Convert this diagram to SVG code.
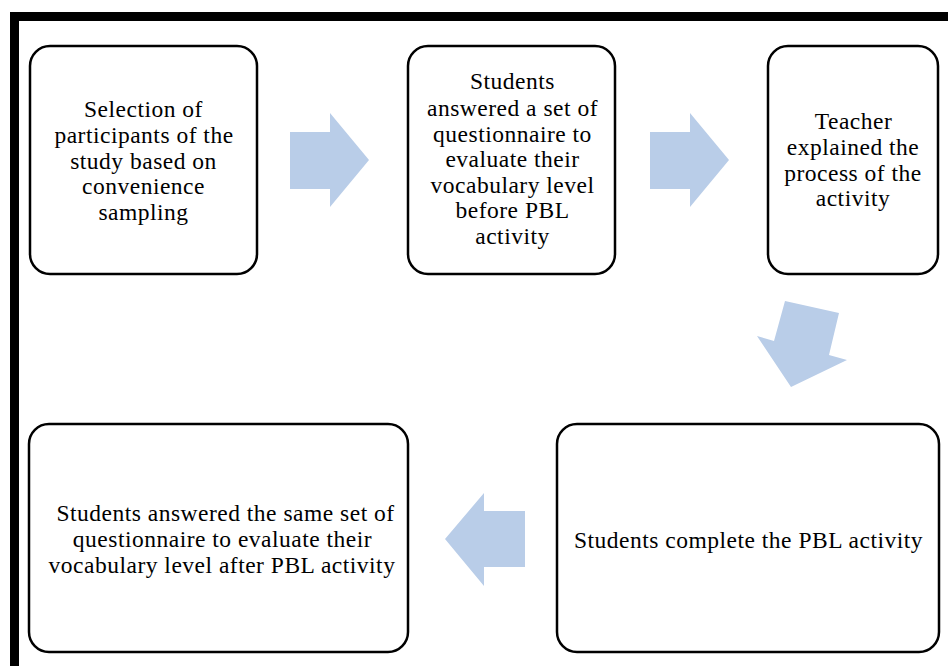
<svg xmlns="http://www.w3.org/2000/svg" width="948" height="666" viewBox="0 0 948 666">
<style>
.frame{fill:#000}
.box{fill:#fff;stroke:#000;stroke-width:2.5}
.arr{fill:#b9cde8}
text{font-family:'Liberation Serif','DejaVu Serif',serif;font-size:23.5px;letter-spacing:0.5px;fill:#000;text-anchor:middle}
</style>
<rect width="948" height="666" fill="#fff"/>
<rect class="frame" x="10" y="12" width="938" height="9"/>
<rect class="frame" x="10" y="12" width="9" height="654"/>
<g id="connectors">
<polygon class="arr" points="290,132 330,132 330,113 369,160 330,207 330,189 290,189"/>
<polygon class="arr" points="650,132 690,132 690,113 729,160 690,207 690,189 650,189"/>
<polygon class="arr" points="785,301 839,313 829,355 847,360 791,387 757,336 774,341"/>
<polygon class="arr" points="525,511 484,511 484,493 445,539 484,586 484,567 525,567"/>
</g>
<g id="n1">
<rect class="box" x="30" y="46" width="227" height="228" rx="20"/>
<text x="143.5" y="117">Selection of</text>
<text x="144" y="143">participants of the</text>
<text x="143.5" y="169">study based on</text>
<text x="143.5" y="194">convenience</text>
<text x="143.5" y="220">sampling</text>
</g>
<g id="n2">
<rect class="box" x="408" y="46" width="207" height="228" rx="20"/>
<text x="512.5" y="89">Students</text>
<text x="512.5" y="116">answered a set of</text>
<text x="512.5" y="142">questionnaire to</text>
<text x="512.5" y="167">evaluate their</text>
<text x="512.5" y="193">vocabulary level</text>
<text x="512.5" y="218">before PBL</text>
<text x="512.5" y="244">activity</text>
</g>
<g id="n3">
<rect class="box" x="768" y="46" width="170" height="228" rx="20"/>
<text x="853.5" y="129">Teacher</text>
<text x="853" y="155">explained the</text>
<text x="853" y="181">process of the</text>
<text x="853" y="206">activity</text>
</g>
<g id="n4">
<rect class="box" x="557" y="424" width="382" height="228" rx="20"/>
<text x="748.5" y="548">Students complete the PBL activity</text>
</g>
<g id="n5">
<rect class="box" x="29" y="424" width="379" height="228" rx="20"/>
<text x="225.5" y="521">Students answered the same set of</text>
<text x="222.5" y="547">questionnaire to evaluate their</text>
<text x="222" y="573">vocabulary level after PBL activity</text>
</g>
</svg>
